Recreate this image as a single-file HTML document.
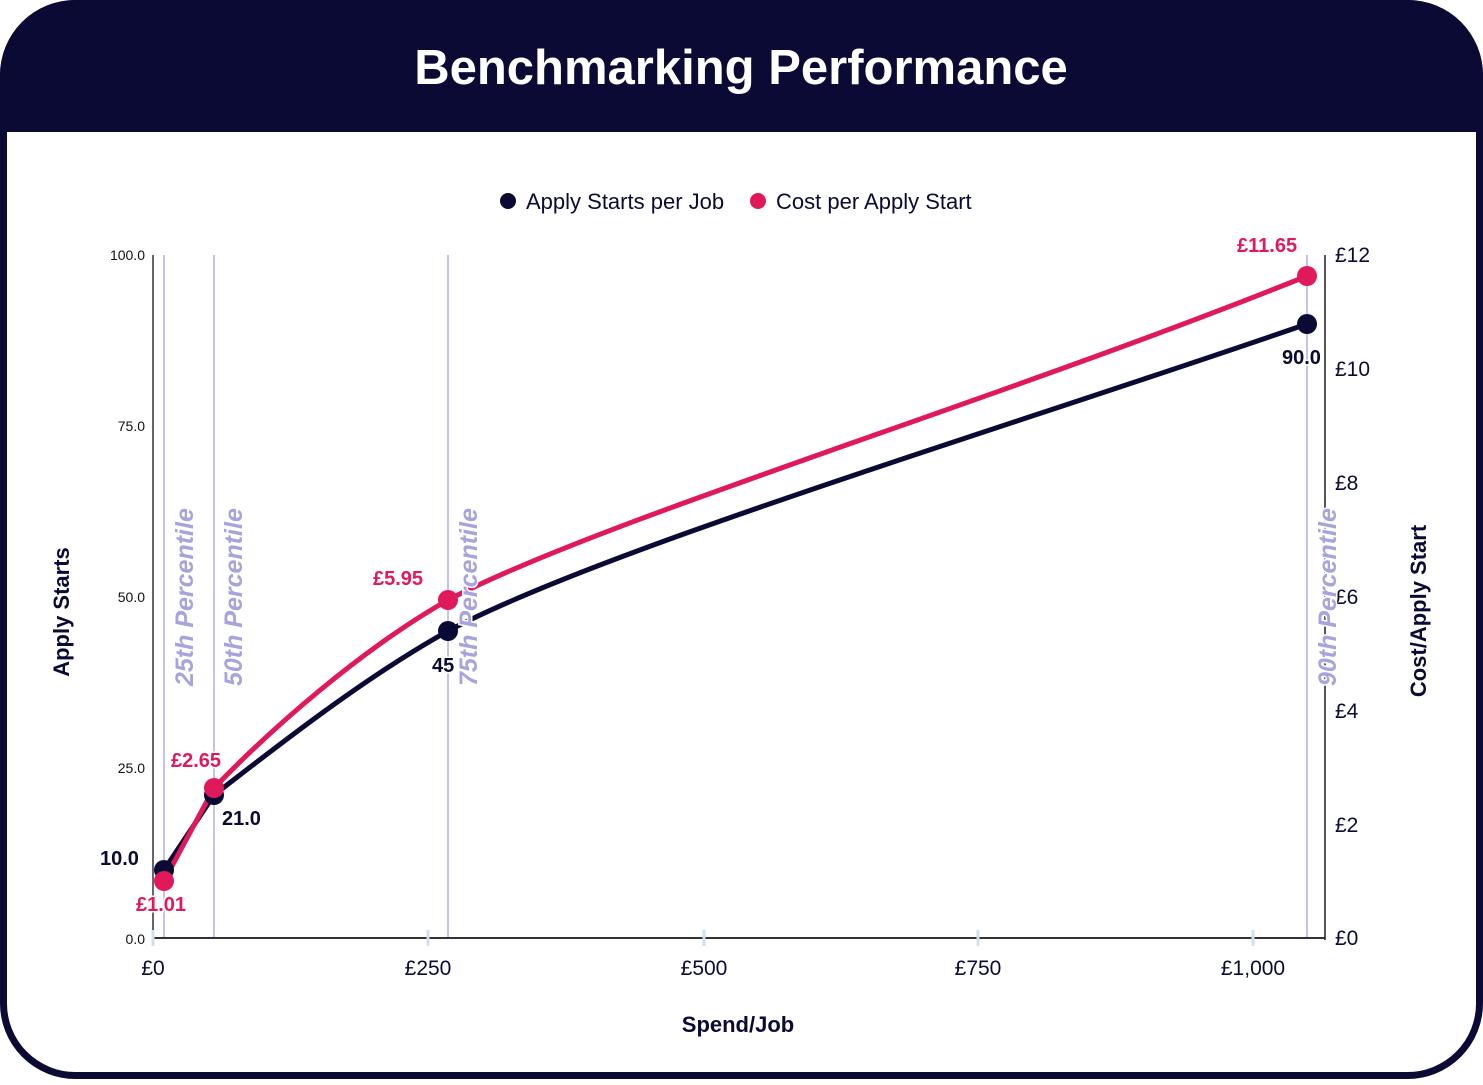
<!DOCTYPE html>
<html><head><meta charset="utf-8"><style>
html,body{margin:0;padding:0;background:#fff;}
body{width:1483px;height:1080px;overflow:hidden;font-family:"Liberation Sans",sans-serif;}
</style></head><body>
<svg width="1483" height="1080" xmlns="http://www.w3.org/2000/svg" font-family="Liberation Sans, sans-serif">
<rect x="3.5" y="3.5" width="1476" height="1072" rx="72" fill="#fff" stroke="#0b0a35" stroke-width="7"/>
<path d="M0,132 V75 A75,75 0 0 1 75,0 H1408 A75,75 0 0 1 1483,75 V132 Z" fill="#0b0a35"/>
<text x="741" y="84" text-anchor="middle" fill="#fff" font-size="49" font-weight="bold">Benchmarking Performance</text>
<!-- legend -->
<circle cx="508" cy="201" r="8" fill="#0b0a35"/>
<text x="526" y="209" font-size="22" fill="#0b0a35">Apply Starts per Job</text>
<circle cx="758" cy="201" r="8" fill="#e0195a"/>
<text x="776" y="209" font-size="22" fill="#0b0a35">Cost per Apply Start</text>
<!-- percentile lines -->
<g stroke="#c5c3e6" stroke-width="2">
<line x1="164" y1="255" x2="164" y2="938"/><line x1="214" y1="255" x2="214" y2="938"/>
<line x1="448" y1="255" x2="448" y2="938"/><line x1="1307" y1="255" x2="1307" y2="938"/>
</g>
<!-- axes -->
<line x1="153" y1="255" x2="153" y2="940" stroke="#666" stroke-width="2"/>
<line x1="1325" y1="255" x2="1325" y2="940" stroke="#555" stroke-width="2"/>
<line x1="153" y1="938" x2="1325" y2="938" stroke="#333" stroke-width="2"/>
<g stroke="#cfe0ee" stroke-width="3">
<line x1="153" y1="930" x2="153" y2="946"/><line x1="428" y1="930" x2="428" y2="946"/><line x1="704" y1="930" x2="704" y2="946"/><line x1="978" y1="930" x2="978" y2="946"/><line x1="1253" y1="930" x2="1253" y2="946"/>
</g>
<g font-size="14" fill="#111" text-anchor="end">
<text x="145" y="260">100.0</text><text x="145" y="431">75.0</text><text x="145" y="602">50.0</text><text x="145" y="773">25.0</text><text x="145" y="944">0.0</text>
</g>
<g font-size="21" fill="#0b0a35">
<text x="1335" y="262">£12</text><text x="1335" y="376">£10</text><text x="1335" y="490">£8</text><text x="1335" y="604">£6</text><text x="1335" y="718">£4</text><text x="1335" y="832">£2</text><text x="1335" y="945">£0</text>
</g>
<g font-size="21" fill="#0b0a35" text-anchor="middle">
<text x="153" y="975">£0</text><text x="428" y="975">£250</text><text x="704" y="975">£500</text><text x="978" y="975">£750</text><text x="1253" y="975">£1,000</text>
</g>
<text x="738" y="1032" text-anchor="middle" font-size="22" font-weight="bold" fill="#0b0a35">Spend/Job</text>
<text transform="translate(69,612) rotate(-90)" text-anchor="middle" font-size="22" font-weight="bold" fill="#0b0a35">Apply Starts</text>
<text transform="translate(1426,611) rotate(-90)" text-anchor="middle" font-size="22" font-weight="bold" fill="#0b0a35">Cost/Apply Start</text>
<!-- series -->
<path d="M164,870 L214,795 C270,752 360,680 448,631 C600,550 1000,430 1307,324" fill="none" stroke="#0b0a35" stroke-width="5"/>
<path d="M164,881 L214,788 C270,730 360,650 448,600 C600,520 1000,400 1307,276" fill="none" stroke="#e0195a" stroke-width="5"/>
<g fill="#0b0a35"><circle cx="164" cy="870" r="10"/><circle cx="214" cy="795" r="10"/><circle cx="448" cy="631" r="10"/><circle cx="1307" cy="324" r="10"/></g>
<g fill="#e0195a"><circle cx="164" cy="881" r="10"/><circle cx="214" cy="788" r="10"/><circle cx="448" cy="600" r="10"/><circle cx="1307" cy="276" r="10"/></g>
<!-- percentile labels -->
<g font-size="25" font-weight="bold" font-style="italic" fill="#a7a3dc" stroke="#fff" stroke-width="3" paint-order="stroke">
<text transform="translate(193,686) rotate(-90)">25th Percentile</text>
<text transform="translate(242,686) rotate(-90)">50th Percentile</text>
<text transform="translate(477,686) rotate(-90)">75th Percentile</text>
<text transform="translate(1336,686) rotate(-90)">90th Percentile</text>
</g>
<!-- data labels -->
<g font-size="20" font-weight="bold" stroke="#fff" stroke-width="3" paint-order="stroke">
<text x="100" y="865" fill="#0b0a35">10.0</text>
<text x="222" y="825" fill="#0b0a35">21.0</text>
<text x="432" y="672" fill="#0b0a35">45</text>
<text x="1282" y="364" fill="#0b0a35">90.0</text>
<text x="136" y="911" fill="#e0195a">£1.01</text>
<text x="171" y="767" fill="#e0195a">£2.65</text>
<text x="373" y="585" fill="#e0195a">£5.95</text>
<text x="1237" y="252" fill="#e0195a">£11.65</text>
</g>
</svg>
</body></html>
